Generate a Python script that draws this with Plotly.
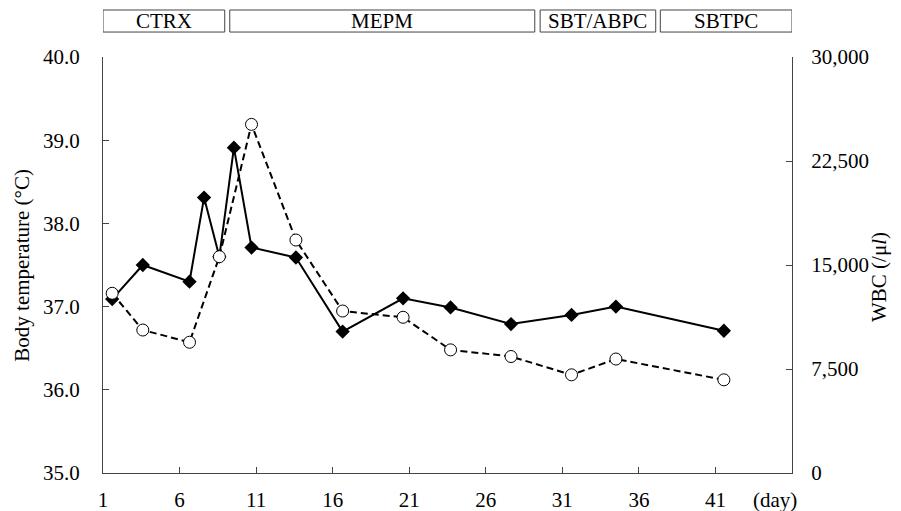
import plotly.graph_objects as go

# ---- data ----
temp_days = [1.6, 3.6, 6.65, 7.6, 8.6, 9.55, 10.7, 13.6, 16.65, 20.6, 23.7, 27.65, 31.6, 34.5, 41.55]
temp_vals = [37.09, 37.50, 37.30, 38.31, 37.60, 38.91, 37.71, 37.59, 36.70, 37.10, 36.99, 36.79, 36.90, 37.00, 36.71]

wbc_days = [1.6, 3.6, 6.65, 8.6, 10.7, 13.6, 16.65, 20.6, 23.7, 27.65, 31.6, 34.5, 41.55]
wbc_vals = [12960, 10310, 9430, 15600, 25140, 16800, 11680, 11230, 8880, 8400, 7080, 8220, 6720]

regimens = ["CTRX", "MEPM", "SBT/ABPC", "SBTPC"]
reg_start = [1.0, 9.28, 29.55, 37.4]
reg_end = [8.95, 29.2, 37.1, 46.0]

x_ticks = [1, 6, 11, 16, 21, 26, 31, 36, 41]
y_ticks = [35, 36, 37, 38, 39, 40]
y_tick_text = ["35.0", "36.0", "37.0", "38.0", "39.0", "40.0"]
y2_ticks = [0, 7500, 15000, 22500, 30000]
y2_tick_text = ["0", "7,500", "15,000", "22,500", "30,000"]

FONT = "Liberation Serif, Times New Roman, serif"
AX = "#444444"
FS = 21

fig = go.Figure()
fig.add_trace(go.Scatter(
    x=temp_days, y=temp_vals, mode="lines+markers",
    line=dict(color="black", width=2),
    marker=dict(symbol="diamond", size=11, color="black"),
    yaxis="y", showlegend=False))
fig.add_trace(go.Scatter(
    x=wbc_days, y=wbc_vals, mode="lines+markers",
    line=dict(color="black", width=2, dash="7px,4px"),
    marker=dict(symbol="circle", size=12, color="white",
                line=dict(color="black", width=1)),
    yaxis="y2", showlegend=False))

for name, s, e in zip(regimens, reg_start, reg_end):
    fig.add_shape(type="rect", xref="x", yref="paper", x0=s, x1=e,
                  y0=1.060, y1=1.113, line=dict(color=AX, width=1),
                  fillcolor="white")
    fig.add_annotation(x=(s + e) / 2, y=1.0865, xref="x", yref="paper",
                       text=name, showarrow=False, yanchor="middle",
                       font=dict(family=FONT, size=FS, color="black"))

fig.add_annotation(x=44.9, y=-0.065, xref="x", yref="paper", text="(day)",
                   showarrow=False, yanchor="middle", xanchor="center",
                   font=dict(family=FONT, size=FS, color="black"))

# axis titles
fig.add_annotation(x=-0.118, y=0.5, xref="paper", yref="paper",
                   text="Body temperature (°C)", textangle=-90,
                   showarrow=False, xanchor="center", yanchor="middle",
                   font=dict(family=FONT, size=FS, color="black"))
fig.add_annotation(x=1.127, y=0.47, xref="paper", yref="paper",
                   text="WBC (/μ<i>l</i>)", textangle=-90,
                   showarrow=False, xanchor="center", yanchor="middle",
                   font=dict(family=FONT, size=FS, color="black"))

fig.update_layout(
    width=893, height=503,
    margin=dict(l=95, r=109, t=49, b=38, autoexpand=False),
    paper_bgcolor="white", plot_bgcolor="white",
    font=dict(family=FONT, size=FS, color="black"),
    xaxis=dict(range=[1, 46], tickvals=x_ticks, ticks="inside", ticklen=6,
               tickcolor=AX, showline=True, linecolor=AX, linewidth=1,
               showgrid=False, zeroline=False, mirror=False,
               ticklabelstandoff=8, automargin=False,
               tickfont=dict(family=FONT, size=FS)),
    yaxis=dict(range=[35, 40], tickvals=y_ticks, ticktext=y_tick_text,
               ticks="inside", ticklen=6, tickcolor=AX, showline=True,
               linecolor=AX, linewidth=1, showgrid=False, zeroline=False,
               ticklabelstandoff=18, automargin=False,
               tickfont=dict(family=FONT, size=FS)),
    yaxis2=dict(range=[0, 30000], tickvals=y2_ticks, ticktext=y2_tick_text,
                overlaying="y", side="right", ticks="inside", ticklen=6,
                tickcolor=AX, showline=True, linecolor=AX, linewidth=1,
                showgrid=False, zeroline=False,
                ticklabelstandoff=14, automargin=False,
                tickfont=dict(family=FONT, size=FS)),
)

fig.write_html("out.html")
